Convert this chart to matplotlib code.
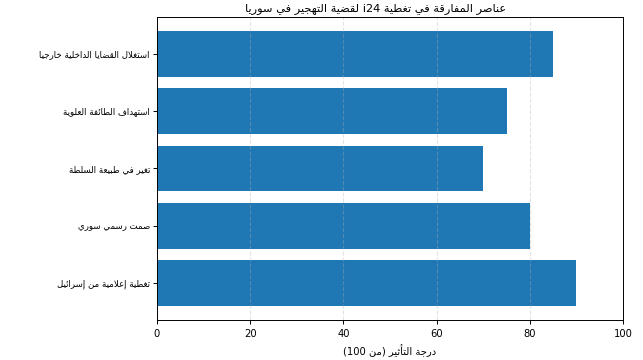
import matplotlib
matplotlib.use("Agg")
import matplotlib.pyplot as plt

# data (bottom to top, as barh draws them)
labels = [
    "تغطية إعلامية من إسرائيل",
    "صمت رسمي سوري",
    "تغير في طبيعة السلطة",
    "استهداف الطائفة العلوية",
    "استغلال القضايا الداخلية خارجيا",
]
scores = [90, 80, 70, 75, 85]
x_ticks = [0, 20, 40, 60, 80, 100]
title = "عناصر المفارقة في تغطية i24 لقضية التهجير في سوريا"
x_label = "درجة التأثير (من 100)"


# --- minimal arabic shaping + bidi (no arabic_reshaper / python-bidi here) ---
# letter: (isolated, final, initial, medial); two-form letters don't join forward
FORMS = {
    'ء': (0xFE80, None, None, None),
    'آ': (0xFE81, 0xFE82, None, None),
    'أ': (0xFE83, 0xFE84, None, None),
    'ؤ': (0xFE85, 0xFE86, None, None),
    'إ': (0xFE87, 0xFE88, None, None),
    'ئ': (0xFE89, 0xFE8A, 0xFE8B, 0xFE8C),
    'ا': (0xFE8D, 0xFE8E, None, None),
    'ب': (0xFE8F, 0xFE90, 0xFE91, 0xFE92),
    'ة': (0xFE93, 0xFE94, None, None),
    'ت': (0xFE95, 0xFE96, 0xFE97, 0xFE98),
    'ث': (0xFE99, 0xFE9A, 0xFE9B, 0xFE9C),
    'ج': (0xFE9D, 0xFE9E, 0xFE9F, 0xFEA0),
    'ح': (0xFEA1, 0xFEA2, 0xFEA3, 0xFEA4),
    'خ': (0xFEA5, 0xFEA6, 0xFEA7, 0xFEA8),
    'د': (0xFEA9, 0xFEAA, None, None),
    'ذ': (0xFEAB, 0xFEAC, None, None),
    'ر': (0xFEAD, 0xFEAE, None, None),
    'ز': (0xFEAF, 0xFEB0, None, None),
    'س': (0xFEB1, 0xFEB2, 0xFEB3, 0xFEB4),
    'ش': (0xFEB5, 0xFEB6, 0xFEB7, 0xFEB8),
    'ص': (0xFEB9, 0xFEBA, 0xFEBB, 0xFEBC),
    'ض': (0xFEBD, 0xFEBE, 0xFEBF, 0xFEC0),
    'ط': (0xFEC1, 0xFEC2, 0xFEC3, 0xFEC4),
    'ظ': (0xFEC5, 0xFEC6, 0xFEC7, 0xFEC8),
    'ع': (0xFEC9, 0xFECA, 0xFECB, 0xFECC),
    'غ': (0xFECD, 0xFECE, 0xFECF, 0xFED0),
    'ف': (0xFED1, 0xFED2, 0xFED3, 0xFED4),
    'ق': (0xFED5, 0xFED6, 0xFED7, 0xFED8),
    'ك': (0xFED9, 0xFEDA, 0xFEDB, 0xFEDC),
    'ل': (0xFEDD, 0xFEDE, 0xFEDF, 0xFEE0),
    'م': (0xFEE1, 0xFEE2, 0xFEE3, 0xFEE4),
    'ن': (0xFEE5, 0xFEE6, 0xFEE7, 0xFEE8),
    'ه': (0xFEE9, 0xFEEA, 0xFEEB, 0xFEEC),
    'و': (0xFEED, 0xFEEE, None, None),
    'ى': (0xFEEF, 0xFEF0, None, None),
    'ي': (0xFEF1, 0xFEF2, 0xFEF3, 0xFEF4),
}
LAM_ALEF = {'آ': (0xFEF5, 0xFEF6), 'أ': (0xFEF7, 0xFEF8),
            'إ': (0xFEF9, 0xFEFA), 'ا': (0xFEFB, 0xFEFC)}


def joins_forward(ch):
    return ch in FORMS and FORMS[ch][2] is not None


def reshape(text):
    # merge lam + alef first, keep a marker of what it is
    chars = []
    i = 0
    while i < len(text):
        if text[i] == 'ل' and i + 1 < len(text) and text[i + 1] in LAM_ALEF:
            chars.append(('LA', text[i + 1]))
            i += 2
        else:
            chars.append((text[i], None))
            i += 1
    out = []
    for k, (ch, extra) in enumerate(chars):
        prev = chars[k - 1][0] if k > 0 else None
        nxt = chars[k + 1][0] if k + 1 < len(chars) else None
        prev_joins = prev is not None and prev != 'LA' and joins_forward(prev)
        if ch == 'LA':
            iso, fin = LAM_ALEF[extra]
            out.append(chr(fin if prev_joins else iso))
            continue
        if ch not in FORMS:
            out.append(ch)
            continue
        iso, fin, ini, med = FORMS[ch]
        next_joins = ini is not None and nxt is not None and (nxt in FORMS or nxt == 'LA')
        if prev_joins and next_joins:
            out.append(chr(med))
        elif prev_joins and fin:
            out.append(chr(fin))
        elif next_joins:
            out.append(chr(ini))
        else:
            out.append(chr(iso))
    return ''.join(out)


def is_ltr(ch):
    return ch.isascii() and ch.isalnum()


def rtl(text):
    shaped = reshape(text)
    runs = []
    for ch in shaped:
        kind = is_ltr(ch)
        if runs and runs[-1][0] == kind:
            runs[-1][1].append(ch)
        else:
            runs.append([kind, [ch]])
    mirror = {'(': ')', ')': '('}
    vis = []
    for kind, chs in reversed(runs):
        if kind:
            vis.append(''.join(chs))
        else:
            vis.append(''.join(mirror.get(c, c) for c in reversed(chs)))
    return ''.join(vis)


plt.rcParams['font.family'] = ['DejaVu Sans']
plt.rcParams['font.size'] = 7.2

fig, ax = plt.subplots(figsize=(6.43, 3.6), dpi=100)
ax.barh([rtl(l) for l in labels], scores, color='#1f77b4', height=0.8)
ax.set_xlim(0, 100)
ax.set_xticks(x_ticks)
ax.set_title(rtl(title), fontsize=8.2, pad=4, x=0.47)
ax.set_xlabel(rtl(x_label))
ax.grid(axis='x', linestyle='--', alpha=0.35)
for s in ax.spines.values():
    s.set_linewidth(0.7)
ax.tick_params(width=0.7, length=3)
ax.tick_params(axis='y', labelsize=6.2, pad=2)

fig.subplots_adjust(left=0.244, right=0.969, top=0.953, bottom=0.111)
fig.savefig("out.png", dpi=100)
